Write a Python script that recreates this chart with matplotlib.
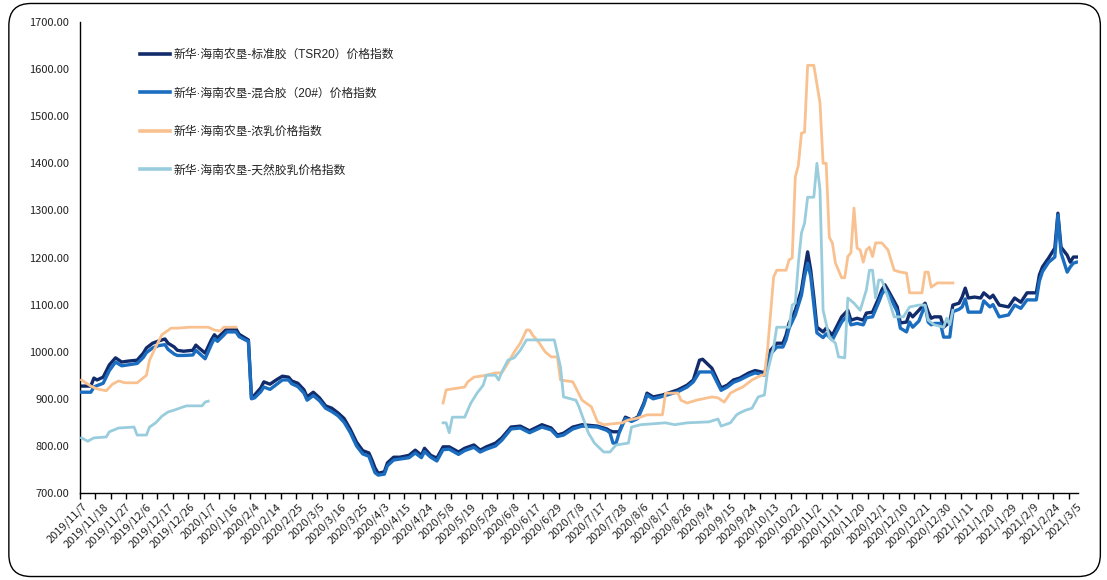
import numpy as np
import matplotlib
matplotlib.use("Agg")
import matplotlib.pyplot as plt
from matplotlib.patches import FancyBboxPatch
from matplotlib.ticker import FixedLocator, FuncFormatter

plt.rcParams['font.family'] = ['Noto Sans CJK SC', 'DejaVu Sans']

# ---- category (trading day) tick labels, every 7th trading day ----
tick_labels = ["2019/11/7", "2019/11/18", "2019/11/27", "2019/12/6", "2019/12/17", "2019/12/26",
               "2020/1/7", "2020/1/16", "2020/2/4", "2020/2/14", "2020/2/25", "2020/3/5",
               "2020/3/16", "2020/3/25", "2020/4/3", "2020/4/15", "2020/4/24", "2020/5/8",
               "2020/5/19", "2020/5/28", "2020/6/8", "2020/6/17", "2020/6/29", "2020/7/8",
               "2020/7/17", "2020/7/28", "2020/8/6", "2020/8/17", "2020/8/26", "2020/9/4",
               "2020/9/15", "2020/9/24", "2020/10/13", "2020/10/22", "2020/11/2", "2020/11/11",
               "2020/11/20", "2020/12/1", "2020/12/10", "2020/12/21", "2020/12/30", "2021/1/11",
               "2021/1/20", "2021/1/29", "2021/2/9", "2021/2/24", "2021/3/5"]
n_days = 323
label_step = 7
mark_step = 5

names = ["新华·海南农垦-标准胶（TSR20）价格指数",
         "新华·海南农垦-混合胶（20#）价格指数",
         "新华·海南农垦-浓乳价格指数",
         "新华·海南农垦-天然胶乳价格指数"]

# ---- TSR20 and mixed rubber (same trading-day indices) ----
rub_idx = [0, 3, 4, 5, 7, 9, 11, 13, 15, 18, 20, 21, 23, 25, 27, 28, 30, 31, 33, 36, 37, 38, 40,
           42, 43, 44, 46, 47, 50, 51, 53, 54, 55, 56, 58, 59, 61, 63, 65, 67, 68, 70, 72, 73,
           75, 77, 79, 81, 83, 85, 87, 89, 91, 93, 94, 95, 96, 98, 99, 101, 103, 106, 108, 110,
           111, 113, 115, 117, 119, 122, 124, 127, 129, 131, 134, 136, 139, 142, 145, 149, 152,
           154, 156, 159, 162, 167, 170, 171, 172, 173, 174, 176, 178, 180, 182, 183, 185, 188,
           193, 196, 198, 200, 201, 204, 207, 209, 211, 213, 216, 218, 220, 221, 222, 223, 225,
           227, 228, 229, 231, 233, 234, 235, 236, 237, 238, 240, 241, 243, 245, 246, 248, 249,
           251, 253, 254, 256, 258, 259, 260, 261, 264, 265, 267, 268, 269, 271, 273, 274, 275,
           276, 278, 279, 281, 282, 284, 285, 286, 287, 289, 291, 292, 294, 295, 297, 300, 302,
           304, 306, 309, 310, 311, 313, 315, 316, 317, 319, 320, 321, 322]
tsr20 = [927, 927, 944, 940, 946, 972, 987, 978, 980, 982, 997, 1008, 1018, 1023, 1027, 1018, 1010,
         1003, 1001, 1003, 1014, 1008, 997, 1025, 1036, 1029, 1042, 1048, 1048, 1037, 1029, 1025,
         902, 908, 923, 936, 931, 940, 948, 946, 938, 933, 919, 904, 914, 902, 885, 880, 870, 858,
         835, 808, 790, 785, 770, 753, 742, 745, 764, 776, 776, 780, 791, 780, 795, 780, 774, 798,
         798, 787, 795, 802, 791, 798, 806, 817, 840, 842, 832, 845, 838, 823, 827, 840, 845, 842,
         836, 832, 830, 830, 830, 861, 855, 861, 891, 912, 904, 908, 919, 929, 940, 982, 984, 965,
         923, 929, 940, 944, 955, 960, 957, 955, 972, 1003, 1018, 1018, 1035, 1061, 1088, 1131,
         1173, 1212, 1173, 1116, 1052, 1042, 1050, 1035, 1061, 1074, 1088, 1067, 1071, 1067, 1082,
         1084, 1114, 1131, 1142, 1131, 1095, 1061, 1063, 1082, 1074, 1088, 1103, 1084, 1071, 1074,
         1074, 1052, 1063, 1099, 1103, 1116, 1135, 1114, 1116, 1114, 1125, 1114, 1120, 1099, 1095,
         1114, 1105, 1125, 1125, 1163, 1180, 1199, 1220, 1294, 1222, 1205, 1190, 1201, 1201]
mixed = [914, 914, 925, 928, 933, 960, 978, 970, 972, 975, 988, 998, 1008, 1013, 1015, 1005, 995,
         992, 992, 993, 1003, 997, 985, 1015, 1028, 1022, 1035, 1042, 1042, 1032, 1025, 1022,
         900, 902, 915, 925, 920, 930, 940, 940, 932, 926, 912, 897, 907, 896, 880, 873, 864, 850,
         828, 800, 783, 778, 760, 743, 738, 740, 758, 770, 772, 775, 785, 775, 788, 776, 768, 792,
         793, 782, 790, 797, 787, 793, 800, 812, 836, 838, 828, 840, 834, 820, 823, 836, 842, 840,
         833, 828, 806, 806, 828, 858, 852, 858, 888, 908, 900, 905, 915, 925, 936, 957, 957, 957,
         918, 925, 935, 940, 950, 955, 952, 950, 965, 995, 1010, 1010, 1025, 1050, 1078, 1120,
         1160, 1188, 1160, 1100, 1040, 1030, 1038, 1025, 1050, 1063, 1078, 1057, 1060, 1057, 1072,
         1074, 1105, 1122, 1132, 1125, 1085, 1050, 1042, 1063, 1052, 1065, 1099, 1063, 1057, 1060,
         1060, 1031, 1031, 1085, 1090, 1095, 1112, 1084, 1084, 1084, 1108, 1095, 1100, 1074, 1078,
         1099, 1092, 1110, 1110, 1150, 1170, 1190, 1201, 1290, 1210, 1169, 1180, 1188, 1190]

# ---- concentrated latex (two segments, gap between) ----
latex_idx = [0, 3, 5, 8, 10, 12, 14, 18, 21, 22, 24, 26, 29, 31, 35, 41, 43, 45, 46, 50,
             117, 118, 122, 124, 125, 127, 131, 134, 136, 138, 140, 142, 144, 145, 146, 148, 150,
             152, 154, 155, 159, 162, 165, 167, 169, 175, 177, 180, 183, 188, 189, 193, 194, 196,
             199, 204, 206, 208, 210, 212, 214, 217, 220, 221, 222, 224, 225, 228, 229, 230, 231,
             232, 233, 234, 235, 237, 239, 240, 241, 242, 243, 244, 246, 247, 248, 249, 250, 251,
             252, 253, 254, 255, 256, 257, 259, 261, 263, 265, 267, 268, 272, 273, 274, 275, 277,
             282]
latex = [940, 927, 921, 917, 931, 938, 934, 934, 950, 982, 1010, 1036, 1050, 1050, 1052, 1052,
         1046, 1044, 1052, 1052,
         891, 919, 923, 925, 936, 946, 950, 955, 955, 976, 999, 1018, 1046, 1046, 1035, 1020, 1000,
         989, 989, 940, 936, 897, 883, 851, 845, 849, 855, 859, 866, 866, 912, 912, 897, 891,
         897, 904, 902, 893, 912, 919, 925, 940, 950, 950, 1003, 1159, 1173, 1173, 1195, 1199, 1371,
         1396, 1464, 1466, 1608, 1608, 1528, 1400, 1400, 1243, 1231, 1188, 1157, 1157, 1202, 1210,
         1305, 1220, 1216, 1190, 1216, 1222, 1202, 1231, 1231, 1216, 1173, 1169, 1167, 1125, 1125,
         1169, 1169, 1137, 1146, 1146]

# ---- natural latex (two segments) ----
natural_idx = [0, 2, 4, 8, 9, 12, 17, 18, 21, 22, 24, 26, 28, 30, 33, 34, 39, 40, 41,
               117, 118, 119, 120, 124, 126, 128, 130, 131, 134, 135, 136, 138, 140, 142, 144, 153,
               155, 156, 160, 161, 164, 166, 169, 171, 173, 177, 178, 181, 189, 192, 196, 203, 206,
               207, 210, 212, 213, 215, 217, 219, 221, 222, 224, 225, 229, 230, 231, 232, 233, 234,
               235, 237, 238, 239, 240, 242, 244, 245, 247, 248, 250, 252, 254, 255, 256, 257, 258,
               259, 261, 263, 266, 268, 271, 273, 274, 276, 279, 280, 281, 282]
natural = [817, 810, 817, 819, 830, 838, 840, 823, 823, 840, 849, 863, 872, 876, 883, 885, 885,
           893, 895,
           849, 849, 828, 861, 861, 891, 912, 929, 950, 950, 940, 957, 982, 987, 1003, 1025, 1025,
           968, 904, 897, 883, 828, 806, 787, 787, 802, 806, 840, 845, 849, 845, 849, 851, 857,
           842, 849, 866, 870, 876, 880, 904, 908, 957, 1010, 1052, 1052, 1099, 1103, 1188, 1252,
           1273, 1328, 1328, 1400, 1343, 1088, 1031, 1018, 989, 987, 1114, 1103, 1088, 1131, 1173,
           1173, 1114, 1152, 1152, 1116, 1074, 1074, 1095, 1099, 1099, 1067, 1057, 1052, 1071, 1057,
           1088]

y_ticks = [700, 800, 900, 1000, 1100, 1200, 1300, 1400, 1500, 1600, 1700]

colors = ["#112b6b", "#1b6dbf", "#f9c190", "#99cddd"]
widths = [2.4, 2.4, 2.0, 2.0]


def segmented(idx, vals):
    """Insert a NaN break wherever the index jumps by a large gap (missing data)."""
    xs, ys = [], []
    for k, (i, v) in enumerate(zip(idx, vals)):
        if k > 0 and i - idx[k - 1] > 30:
            xs.append(np.nan)
            ys.append(np.nan)
        xs.append(i)
        ys.append(v)
    return xs, ys


fig = plt.figure(figsize=(11.07, 5.80), dpi=100)
ax = fig.add_axes([80 / 1107, 1 - 493 / 580, (1078 - 80) / 1107, (493 - 22) / 580])

series = [(rub_idx, tsr20), (rub_idx, mixed), (latex_idx, latex), (natural_idx, natural)]
for k, ((idx, vals), name) in enumerate(zip(series, names)):
    xs, ys = segmented(idx, vals)
    ax.plot(xs, ys, color=colors[k], lw=widths[k], label=name, zorder=2 + k,
            solid_joinstyle='round')

ax.set_xlim(-0.5, n_days - 0.5)
ax.set_ylim(y_ticks[0], y_ticks[-1])
ax.set_yticks(y_ticks)
ax.yaxis.set_major_formatter(FuncFormatter(lambda v, p: f"{v:.2f}"))
ax.tick_params(axis='y', length=0, pad=8, labelsize=8, labelcolor='#222222')

label_pos = list(range(0, n_days, label_step))
ax.xaxis.set_major_locator(FixedLocator(label_pos))
ax.set_xticklabels(tick_labels[:len(label_pos)], rotation=45, ha='right', va='top',
                   rotation_mode='anchor', fontsize=8, color='#222222')
ax.xaxis.set_minor_locator(FixedLocator([k - 0.5 for k in range(0, n_days + 1, mark_step)]))
ax.tick_params(axis='x', which='major', length=0, pad=6)
ax.tick_params(axis='x', which='minor', length=4, width=1, color='black', direction='out')

for s in ['top', 'right']:
    ax.spines[s].set_visible(False)
ax.spines['left'].set_color('black')
ax.spines['bottom'].set_color('black')
ax.spines['left'].set_linewidth(1.0)
ax.spines['bottom'].set_linewidth(1.0)

leg = ax.legend(loc='upper left', bbox_to_anchor=(0.055, 0.953), frameon=False,
                prop={'family': ['Liberation Sans', 'Noto Sans CJK SC'], 'size': 8.5},
                handlelength=2.6, handletextpad=0.3, labelspacing=2.25,
                borderaxespad=0)
for t in leg.get_texts():
    t.set_color('#222222')
for h in leg.get_lines():
    h.set_linewidth(2.6)

border = FancyBboxPatch((0.008, 0.006), 0.986, 0.988, transform=fig.transFigure,
                        boxstyle="round,pad=0,rounding_size=0.02", fill=False,
                        edgecolor='black', linewidth=1.0, mutation_aspect=1107 / 580)
fig.patches.append(border)

fig.savefig("out.png", dpi=100)
